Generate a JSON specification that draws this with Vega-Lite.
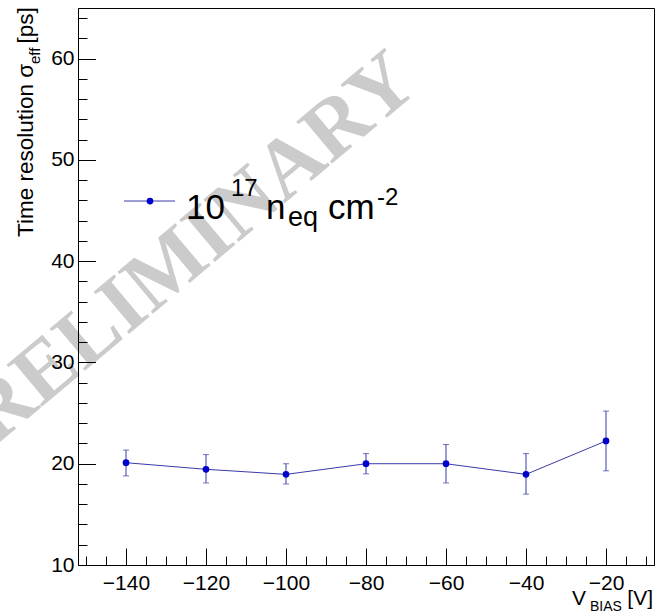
{
  "$schema": "https://vega.github.io/schema/vega-lite/v6.json",
  "width": 576,
  "height": 557,
  "autosize": "none",
  "padding": {"left": 78, "top": 8, "right": 2, "bottom": 49},
  "background": "white",
  "config": {
    "view": {"stroke": "#000000", "strokeWidth": 1},
    "font": "Liberation Sans",
    "text": {"font": "Liberation Sans", "color": "#000000"}
  },
  "resolve": {"axis": {"x": "independent", "y": "independent"}},
  "layer": [
    {
      "data": {"values": [{"label": "PRELIMINARY"}]},
      "mark": {"type": "text", "font": "Liberation Serif", "fontWeight": "bold", "fontSize": 84, "angle": -40, "align": "center", "baseline": "middle", "color": "#cbcbcb"},
      "encoding": {
        "x": {"datum": -128.5, "type": "quantitative", "scale": {"domain": [-152, -8], "nice": false, "zero": false},
          "axis": {
            "orient": "bottom",
            "values": [-140, -120, -100, -80, -60, -40, -20],
            "ticks": false,
            "tickSize": 0,
            "labelPadding": 7,
            "labelFontSize": 21,
            "labelFont": "Liberation Sans",
            "labelColor": "#000000",
            "domainColor": "#000000",
            "title": null,
            "grid": false,
            "zindex": 1,
            "labelFlush": false,
            "labelOverlap": false
          }},
        "y": {"datum": 39.62, "type": "quantitative", "scale": {"domain": [10, 65], "nice": false, "zero": false},
          "axis": {
            "orient": "left",
            "values": [10, 20, 30, 40, 50, 60],
            "ticks": false,
            "tickSize": 0,
            "labelPadding": 4,
            "labelFontSize": 21,
            "labelFont": "Liberation Sans",
            "labelColor": "#000000",
            "domainColor": "#000000",
            "title": null,
            "grid": false,
            "zindex": 1,
            "labelFlush": false,
            "labelOverlap": false
          }},
        "text": {"field": "label"}
      }
    },
    {
      "data": {"values": [{"label": "legend"}]},
      "mark": {"type": "rule", "color": "#3a3aaa", "strokeWidth": 1},
      "encoding": {
        "x": {"datum": -140.5, "type": "quantitative",
          "axis": {
            "orient": "top",
            "offset": -557,
            "values": [-150, -145, -135, -130, -125, -115, -110, -105, -95, -90, -85, -75, -70, -65, -55, -50, -45, -35, -30, -25, -15, -10],
            "tickSize": 9,
            "labels": false,
            "domain": false,
            "tickColor": "#000000",
            "title": null,
            "grid": false,
            "zindex": 1
          }},
        "x2": {"datum": -127.75},
        "y": {"datum": 45.94, "type": "quantitative",
          "axis": {
            "orient": "right",
            "offset": -576,
            "values": [12, 14, 16, 18, 22, 24, 26, 28, 32, 34, 36, 38, 42, 44, 46, 48, 52, 54, 56, 58, 62, 64],
            "tickSize": 9,
            "labels": false,
            "domain": false,
            "tickColor": "#000000",
            "title": null,
            "grid": false,
            "zindex": 1
          }}
      }
    },
    {
      "data": {"values": [{"label": "legend"}]},
      "mark": {"type": "point", "filled": true, "shape": "circle", "size": 45, "color": "#0000cc", "opacity": 1},
      "encoding": {
        "x": {"datum": -134, "type": "quantitative",
          "axis": {
            "orient": "top",
            "offset": -557,
            "values": [-140, -120, -100, -80, -60, -40, -20],
            "tickSize": 17,
            "labels": false,
            "domain": false,
            "tickColor": "#000000",
            "title": null,
            "grid": false,
            "zindex": 1
          }},
        "y": {"datum": 45.94, "type": "quantitative",
          "axis": {
            "orient": "right",
            "offset": -576,
            "values": [20, 30, 40, 50, 60],
            "tickSize": 17.5,
            "labels": false,
            "domain": false,
            "tickColor": "#000000",
            "title": null,
            "grid": false,
            "zindex": 1
          }}
      }
    },
    {
      "data": {"values": [
        {"v": -140, "t": 20.1, "lo": 18.8, "hi": 21.35},
        {"v": -120, "t": 19.45, "lo": 18.1, "hi": 20.9},
        {"v": -100, "t": 18.95, "lo": 18.0, "hi": 20.0},
        {"v": -80, "t": 20.0, "lo": 19.0, "hi": 21.0},
        {"v": -60, "t": 20.0, "lo": 18.1, "hi": 21.9},
        {"v": -40, "t": 18.95, "lo": 17.0, "hi": 21.0},
        {"v": -20, "t": 22.25, "lo": 19.3, "hi": 25.2}
      ]},
      "layer": [
        {"mark": {"type": "rule", "color": "#3a3aaa", "strokeWidth": 1},
         "encoding": {"x": {"field": "v", "type": "quantitative", "axis": null}, "y": {"field": "lo", "type": "quantitative", "axis": null}, "y2": {"field": "hi"}}},
        {"mark": {"type": "tick", "orient": "horizontal", "size": 6, "thickness": 1, "color": "#3a3aaa"},
         "encoding": {"x": {"field": "v", "type": "quantitative", "axis": null}, "y": {"field": "lo", "type": "quantitative", "axis": null}}},
        {"mark": {"type": "tick", "orient": "horizontal", "size": 6, "thickness": 1, "color": "#3a3aaa"},
         "encoding": {"x": {"field": "v", "type": "quantitative", "axis": null}, "y": {"field": "hi", "type": "quantitative", "axis": null}}},
        {"mark": {"type": "line", "color": "#3a3aaa", "strokeWidth": 1},
         "encoding": {"x": {"field": "v", "type": "quantitative", "axis": null}, "y": {"field": "t", "type": "quantitative", "axis": null}}},
        {"mark": {"type": "point", "filled": true, "shape": "circle", "size": 45, "color": "#0000cc", "opacity": 1},
         "encoding": {"x": {"field": "v", "type": "quantitative", "axis": null}, "y": {"field": "t", "type": "quantitative", "axis": null}}}
      ]
    },
    {
      "data": {"values": [{"label": "10"}]},
      "mark": {"type": "text", "fontSize": 35, "align": "left", "baseline": "alphabetic"},
      "encoding": {"x": {"datum": -125, "type": "quantitative", "axis": null}, "y": {"datum": 44.17, "type": "quantitative", "axis": null}, "text": {"field": "label"}}
    },
    {
      "data": {"values": [{"label": "17"}]},
      "mark": {"type": "text", "fontSize": 24, "align": "left", "baseline": "alphabetic"},
      "encoding": {"x": {"datum": -113.75, "type": "quantitative", "axis": null}, "y": {"datum": 46.43, "type": "quantitative", "axis": null}, "text": {"field": "label"}}
    },
    {
      "data": {"values": [{"label": "n"}]},
      "mark": {"type": "text", "fontSize": 35, "align": "left", "baseline": "alphabetic"},
      "encoding": {"x": {"datum": -105, "type": "quantitative", "axis": null}, "y": {"datum": 44.17, "type": "quantitative", "axis": null}, "text": {"field": "label"}}
    },
    {
      "data": {"values": [{"label": "eq"}]},
      "mark": {"type": "text", "fontSize": 27, "align": "left", "baseline": "alphabetic"},
      "encoding": {"x": {"datum": -99.5, "type": "quantitative", "axis": null}, "y": {"datum": 43.48, "type": "quantitative", "axis": null}, "text": {"field": "label"}}
    },
    {
      "data": {"values": [{"label": "cm"}]},
      "mark": {"type": "text", "fontSize": 35, "align": "left", "baseline": "alphabetic"},
      "encoding": {"x": {"datum": -89.5, "type": "quantitative", "axis": null}, "y": {"datum": 44.17, "type": "quantitative", "axis": null}, "text": {"field": "label"}}
    },
    {
      "data": {"values": [{"label": "-2"}]},
      "mark": {"type": "text", "fontSize": 24, "align": "left", "baseline": "alphabetic"},
      "encoding": {"x": {"datum": -77.25, "type": "quantitative", "axis": null}, "y": {"datum": 45.55, "type": "quantitative", "axis": null}, "text": {"field": "label"}}
    },
    {
      "data": {"values": [{"label": "Time resolution σ"}]},
      "mark": {"type": "text", "fontSize": 22.5, "angle": -90, "align": "left", "baseline": "alphabetic"},
      "encoding": {"x": {"datum": -163.25, "type": "quantitative", "axis": null}, "y": {"datum": 42.39, "type": "quantitative", "axis": null}, "text": {"field": "label"}}
    },
    {
      "data": {"values": [{"label": "eff"}]},
      "mark": {"type": "text", "fontSize": 15, "angle": -90, "align": "left", "baseline": "alphabetic"},
      "encoding": {"x": {"datum": -161.5, "type": "quantitative", "axis": null}, "y": {"datum": 59.47, "type": "quantitative", "axis": null}, "text": {"field": "label"}}
    },
    {
      "data": {"values": [{"label": "[ps]"}]},
      "mark": {"type": "text", "fontSize": 22.5, "angle": -90, "align": "left", "baseline": "alphabetic"},
      "encoding": {"x": {"datum": -163.25, "type": "quantitative", "axis": null}, "y": {"datum": 61.49, "type": "quantitative", "axis": null}, "text": {"field": "label"}}
    },
    {
      "data": {"values": [{"label": "V"}]},
      "mark": {"type": "text", "fontSize": 21, "align": "left", "baseline": "alphabetic"},
      "encoding": {"x": {"datum": -28.5, "type": "quantitative", "axis": null}, "y": {"datum": 6.05, "type": "quantitative", "axis": null}, "text": {"field": "label"}}
    },
    {
      "data": {"values": [{"label": "BIAS"}]},
      "mark": {"type": "text", "fontSize": 14, "align": "left", "baseline": "alphabetic"},
      "encoding": {"x": {"datum": -24, "type": "quantitative", "axis": null}, "y": {"datum": 5.46, "type": "quantitative", "axis": null}, "text": {"field": "label"}}
    },
    {
      "data": {"values": [{"label": "[V]"}]},
      "mark": {"type": "text", "fontSize": 21, "align": "right", "baseline": "alphabetic"},
      "encoding": {"x": {"datum": -8.25, "type": "quantitative", "axis": null}, "y": {"datum": 6.05, "type": "quantitative", "axis": null}, "text": {"field": "label"}}
    }
  ]
}
